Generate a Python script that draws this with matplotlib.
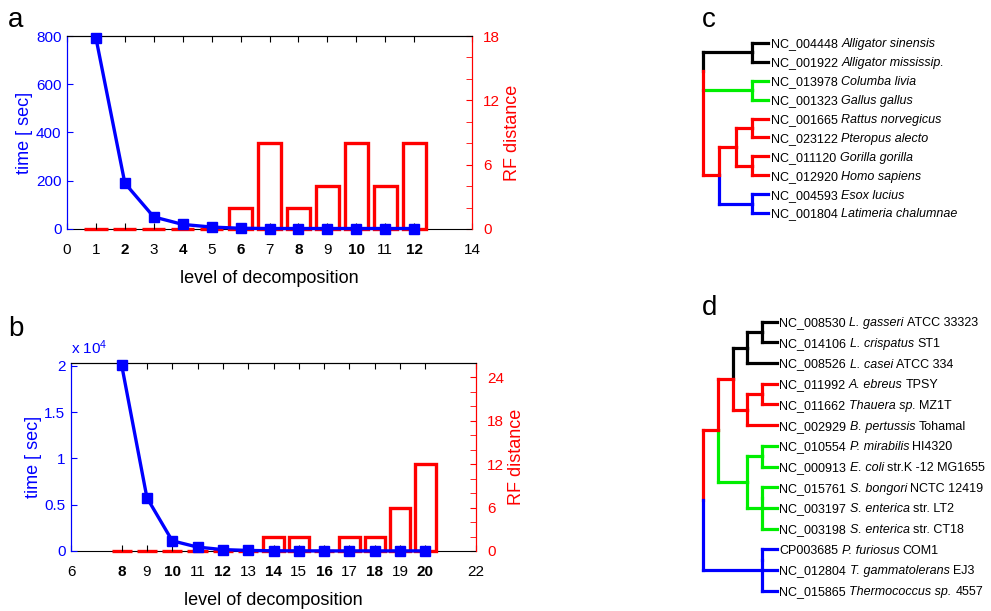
import matplotlib
matplotlib.use('Agg')
import matplotlib.pyplot as plt
from matplotlib import font_manager
from matplotlib.ticker import FixedLocator, FuncFormatter

# ---------------- data ----------------
levels_a = [1, 2, 3, 4, 5, 6, 7, 8, 9, 10, 11, 12]
time_a = [792, 190, 50, 19, 8, 3, 2, 2, 2, 2, 2, 2]
rf_a = [0, 0, 0, 0, 0, 2, 8, 2, 4, 8, 4, 8]
xticks_a = [0, 1, 2, 3, 4, 5, 6, 7, 8, 9, 10, 11, 12, 14]
bold_a = [2, 4, 6, 8, 10, 12]
yticks_a = [0, 200, 400, 600, 800]
rf_major_a = [0, 6, 12, 18]
rf_minor_a = [2, 4, 8, 10, 14, 16]

levels_b = [8, 9, 10, 11, 12, 13, 14, 15, 16, 17, 18, 19, 20]
time_b = [20100, 5750, 1100, 420, 150, 60, 20, 15, 10, 10, 10, 10, 10]
rf_b = [0, 0, 0, 0, 0, 0, 2, 2, 0, 2, 2, 6, 12]
xticks_b = [6, 8, 9, 10, 11, 12, 13, 14, 15, 16, 17, 18, 19, 20, 22]
bold_b = [8, 10, 12, 14, 16, 18, 20]
yticks_b = [0, 5000, 10000, 15000, 20000]
rf_major_b = [0, 6, 12, 18, 24]
rf_minor_b = [2, 4, 8, 10, 14, 16, 20, 22, 26]

leaves_c = [("NC_004448", "Alligator sinensis", ""),
            ("NC_001922", "Alligator mississip.", ""),
            ("NC_013978", "Columba livia", ""),
            ("NC_001323", "Gallus gallus", ""),
            ("NC_001665", "Rattus norvegicus", ""),
            ("NC_023122", "Pteropus alecto", ""),
            ("NC_011120", "Gorilla gorilla", ""),
            ("NC_012920", "Homo sapiens", ""),
            ("NC_004593", "Esox lucius", ""),
            ("NC_001804", "Latimeria chalumnae", "")]

leaves_d = [("NC_008530", "L. gasseri", "ATCC 33323"),
            ("NC_014106", "L. crispatus", "ST1"),
            ("NC_008526", "L. casei", "ATCC 334"),
            ("NC_011992", "A. ebreus", "TPSY"),
            ("NC_011662", "Thauera sp.", "MZ1T"),
            ("NC_002929", "B. pertussis", "Tohamal"),
            ("NC_010554", "P. mirabilis", "HI4320"),
            ("NC_000913", "E. coli", "str.K -12 MG1655"),
            ("NC_015761", "S. bongori", "NCTC 12419"),
            ("NC_003197", "S. enterica", "str. LT2"),
            ("NC_003198", "S. enterica", "str. CT18"),
            ("CP003685", "P. furiosus", "COM1"),
            ("NC_012804", "T. gammatolerans", "EJ3"),
            ("NC_015865", "Thermococcus sp.", "4557")]

K, G, R, B = 'black', '#00ee00', '#ff0000', '#0000ff'


def N(depth, color, kids):
    return ('n', depth, color, kids)


def L(color):
    return ('l', None, color, None)


tree_c = N(0, R, [N(3, K, [L(K), L(K)]),
                  N(3, G, [L(G), L(G)]),
                  N(1, R, [N(2, R, [N(3, R, [L(R), L(R)]),
                                    N(3, R, [L(R), L(R)])]),
                           N(3, B, [L(B), L(B)])])])

tree_d = N(0, R, [N(1, R, [N(2, R, [N(3, K, [N(4, K, [L(K), L(K)]), L(K)]),
                                    N(3, R, [N(4, R, [L(R), L(R)]), L(R)])]),
                           N(3, G, [N(4, G, [L(G), L(G)]),
                                    N(4, G, [L(G), L(G), L(G)])])]),
                  N(4, B, [L(B), L(B), L(B)])])

# ---------------- fonts ----------------
names = {f.name for f in font_manager.fontManager.ttflist}
chart_font = 'Liberation Sans Narrow' if 'Liberation Sans Narrow' in names else 'Liberation Sans'
plt.rcParams['font.family'] = ['Liberation Sans', 'DejaVu Sans']
plt.rcParams['mathtext.fontset'] = 'custom'
plt.rcParams['mathtext.rm'] = 'Liberation Sans'
plt.rcParams['mathtext.it'] = 'Liberation Sans:italic'

W, H = 991, 611
DPI = 100
fig = plt.figure(figsize=(W / DPI, H / DPI), dpi=DPI)
renderer = fig.canvas.get_renderer()


def rect(l, t, r, b):
    return [l / W, 1 - b / H, (r - l) / W, (b - t) / H]


def panel(r, levels, times, rfs, xlim, xticks, bold, ylim, yticks, rylim,
          rmaj, rmin, fmt):
    ax = fig.add_axes(r)
    ax.plot(levels, times, color=B, lw=2.4, marker='s', ms=6.5, zorder=3,
            clip_on=False)
    ax.set_xlim(*xlim)
    ax.set_ylim(*ylim)
    ax.set_xticks(xticks)
    ax.set_xticklabels([str(v) for v in xticks], family=chart_font, fontsize=11)
    for lab, v in zip(ax.get_xticklabels(), xticks):
        if v in bold:
            lab.set_fontweight('bold')
    ax.set_yticks(yticks)
    ax.yaxis.set_major_formatter(FuncFormatter(fmt))
    for lab in ax.get_yticklabels():
        lab.set_family(chart_font)
        lab.set_fontsize(11)
    ax.tick_params(axis='x', direction='in', top=True, length=4, pad=10)
    ax.tick_params(axis='y', direction='in', colors=B, length=4, pad=4,
                   right=True)
    ax.spines['left'].set_color(B)
    ax.spines['right'].set_color(R)
    ax.spines['bottom'].set_visible(False)
    ax.set_ylabel('time [ sec]', color=B, fontsize=13, labelpad=2)
    ax.set_xlabel('level of decomposition', fontsize=13, labelpad=9.5)

    ax2 = ax.twinx()
    bars = ax2.bar(levels, rfs, width=0.8, fill=False, edgecolor=R,
                   linewidth=2.4, zorder=3)
    for p in bars:
        p.set_clip_on(False)
    ax2.set_ylim(*rylim)
    ax2.yaxis.set_major_locator(FixedLocator(rmaj))
    ax2.yaxis.set_minor_locator(FixedLocator(rmin))
    for lab in ax2.get_yticklabels():
        lab.set_family(chart_font)
        lab.set_fontsize(11)
    ax2.tick_params(axis='y', which='both', direction='in', colors=R, length=4,
                    pad=8)
    ax2.spines['right'].set_color(R)
    ax2.spines['left'].set_color(B)
    ax2.set_ylabel('RF distance', color=R, fontsize=13, labelpad=3)
    # time curve drawn above the bars
    ax.set_zorder(ax2.get_zorder() + 1)
    ax.patch.set_visible(False)
    return ax, ax2


ax_a, _ = panel(rect(67, 36, 472, 229), levels_a, time_a, rf_a, (0, 14),
                xticks_a, bold_a, (0, 800), yticks_a, (0, 18), rf_major_a,
                rf_minor_a, lambda v, p: '%g' % v)
ax_b, _ = panel(rect(71, 363, 476, 551), levels_b, time_b, rf_b, (6, 22),
                xticks_b, bold_b, (0, 20300), yticks_b, (0, 26), rf_major_b,
                rf_minor_b, lambda v, p: '%g' % (v / 1e4))
ax_b.text(0.0, 1.03, r'x 10$^4$', transform=ax_b.transAxes, color=B,
          fontsize=11, family=chart_font, ha='left', va='bottom')

# ---------------- trees ----------------
FS = 9.0
SPACE_PT = 0.278 * FS


def leaf_label(ax, x, y, parts):
    off = 2.0
    for txt, style in parts:
        if not txt:
            continue
        t = ax.annotate(txt, (x, y), xytext=(off, -0.358 * FS),
                        textcoords='offset points', va='baseline', ha='left',
                        fontsize=FS, style=style, annotation_clip=False)
        w = t.get_window_extent(renderer).width * 72 / DPI
        off += w + SPACE_PT


def draw_tree(ax, node, leaf_depth, counter, labels):
    kind, depth, color, kids = node
    if kind == 'l':
        i = counter[0]
        counter[0] += 1
        ident, ital, suf = labels[i]
        leaf_label(ax, leaf_depth, i, [(ident, 'normal'), (ital, 'italic'),
                                       (suf, 'normal')])
        return i, leaf_depth, color
    res = [draw_tree(ax, k, leaf_depth, counter, labels) for k in kids]
    ys = [r[0] for r in res]
    kw = dict(lw=2.3, solid_capstyle='projecting', clip_on=False)
    for cy, cd, cc in res:
        ax.plot([depth, cd], [cy, cy], color=cc, **kw)
    mid = (ys[0] + ys[1]) / 2
    ax.plot([depth, depth], [ys[0], mid], color=res[0][2], **kw)
    ax.plot([depth, depth], [mid, ys[-1]], color=res[-1][2], **kw)
    return (ys[0] + ys[-1]) / 2, depth, color


axc = fig.add_axes(rect(703, 43, 768, 213))
axc.set_xlim(0, 4)
axc.set_ylim(len(leaves_c) - 1, 0)
axc.axis('off')
draw_tree(axc, tree_c, 4, [0], leaves_c)

axd = fig.add_axes(rect(703.3, 321.7, 776.5, 590.7))
axd.set_xlim(0, 5)
axd.set_ylim(len(leaves_d) - 1, 0)
axd.axis('off')
draw_tree(axd, tree_d, 5, [0], leaves_d)

# panel letters
for ch, x, y in [('a', 8, 27), ('b', 8, 336), ('c', 702, 27), ('d', 702, 315)]:
    fig.text(x / W, 1 - y / H, ch, fontsize=20, ha='left', va='baseline')

fig.savefig('out.png', dpi=DPI)
